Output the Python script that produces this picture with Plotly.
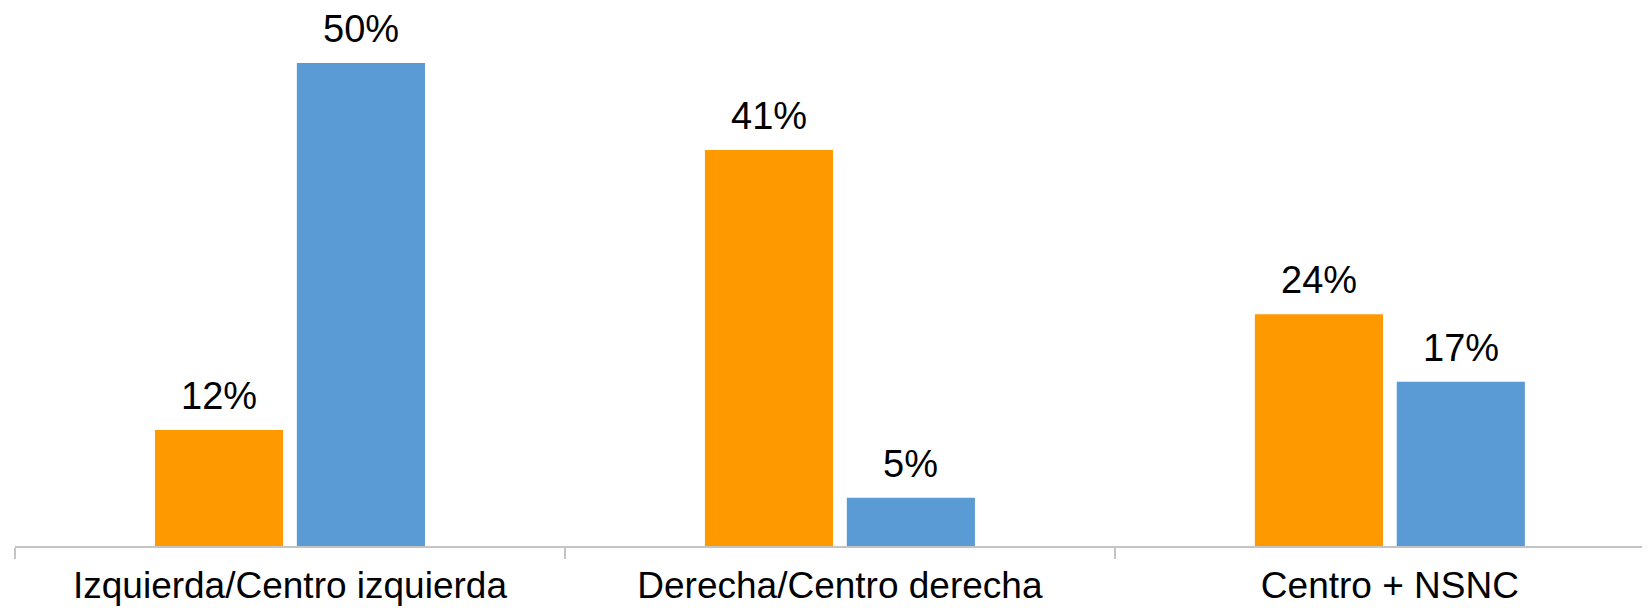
import plotly.graph_objects as go

categories = ["Izquierda/Centro izquierda", "Derecha/Centro derecha", "Centro + NSNC"]
serie_naranja = [12, 41, 24]
serie_azul = [50, 5, 17]

color_naranja = "#FF9900"
color_azul = "#5B9BD5"
font_family = "Liberation Sans, Arial, sans-serif"

fig = go.Figure()
series = [(serie_naranja, color_naranja, "Serie 1", -71), (serie_azul, color_azul, "Serie 2", 71)]
for vals, col, name, shift in series:
    fig.add_trace(go.Bar(
        x=categories, y=vals, name=name,
        marker=dict(color=col, line=dict(width=0)),
    ))
    for cat, v in zip(categories, vals):
        fig.add_annotation(
            x=cat, y=v, xref="x", yref="y",
            text=f"{v}%", showarrow=False,
            xshift=shift, yshift=11, yanchor="bottom",
            font=dict(family=font_family, size=38, color="black"),
        )

fig.update_layout(
    width=1642, height=600,
    margin=dict(l=7, r=0, t=0, b=62, autoexpand=False),
    paper_bgcolor="white", plot_bgcolor="white",
    barmode="group", bargap=0.484, bargroupgap=0.097,
    showlegend=False,
    font=dict(family=font_family, color="black"),
    xaxis=dict(
        type="category", automargin=False,
        range=[-0.5, 2.473],
        showline=True, linecolor="#C4C4C4", linewidth=1.5,
        ticks="outside", tickson="boundaries", ticklen=11, tickcolor="#C4C4C4", tickwidth=1.5,
        ticklabelstandoff=6,
        tickfont=dict(family=font_family, size=37, color="black"),
        showgrid=False,
    ),
    yaxis=dict(
        range=[0, 55.7], visible=False, showgrid=False, zeroline=False, automargin=False,
    ),
)

fig.write_html("out.html")
